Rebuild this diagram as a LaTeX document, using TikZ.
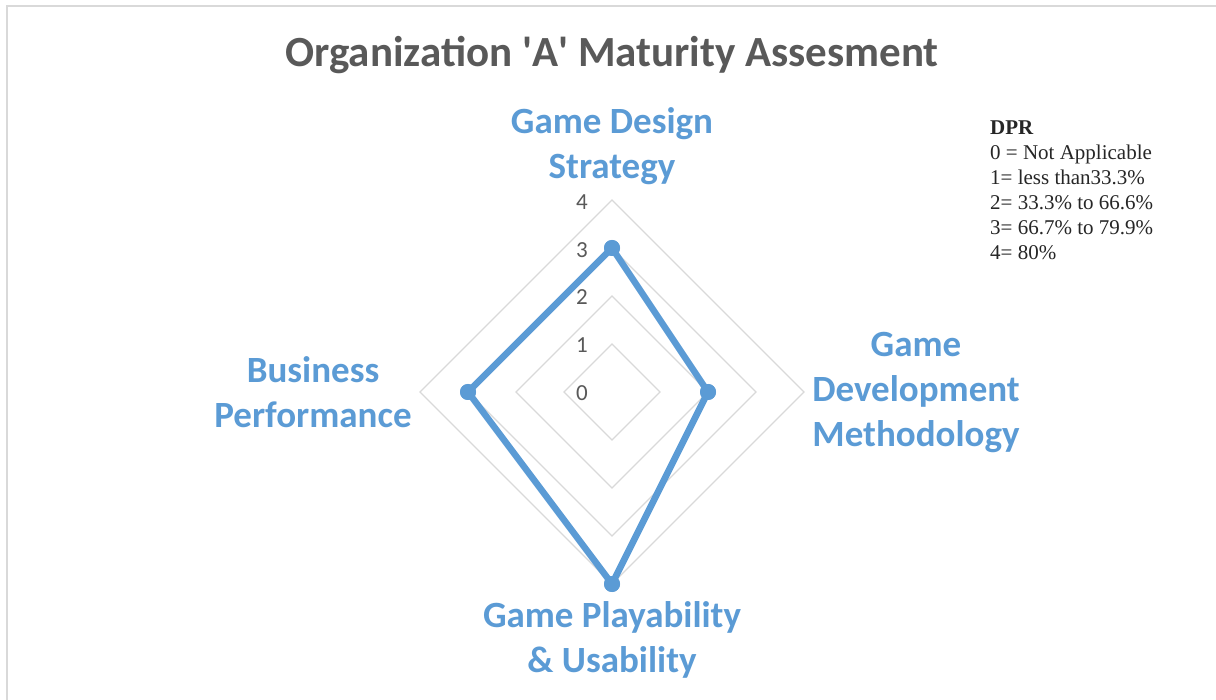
\documentclass[tikz,border=0pt]{standalone}
\usepackage{fontspec}
\setmainfont{Carlito}
\newfontfamily\legendfont{Liberation Serif}
\definecolor{chartblue}{HTML}{5B9BD5}
\definecolor{titlegray}{HTML}{595959}
\definecolor{gridgray}{HTML}{D9D9D9}
\begin{document}
\begin{tikzpicture}[x=1pt,y=-1pt,
  ring/.style={draw=gridgray,line width=1.3pt},
  dataline/.style={draw=chartblue,line width=6.5pt,line join=round},
  dot/.style={circle,fill=chartblue,inner sep=0pt,minimum size=16pt},
  axislabel/.style={text=chartblue,font=\fontsize{37}{45}\selectfont\bfseries,align=center},
  ticklabel/.style={text=titlegray,font=\fontsize{23}{26}\selectfont,anchor=center},
  frame/.style={draw=gridgray,line width=2pt}]
\useasboundingbox (0,0) rectangle (1216,700);
\fill[white] (0,0) rectangle (1216,700);
\draw[frame] (7,720) -- (7,6) -- (1230,6);
% title
\node[text=titlegray,font=\fontsize{43}{50}\selectfont\bfseries] (title) at (612,55) {Organization \textquotesingle A\textquotesingle{} Maturity Assesment};
% rings
\foreach \r in {48,96,144,192}{
  \draw[ring] (612,392-\r) -- (612+\r,392) -- (612,392+\r) -- (612-\r,392) -- cycle;
}
% tick labels
\node[ticklabel] (t4) at (582,202) {4};
\node[ticklabel] (t3) at (582,250) {3};
\node[ticklabel] (t2) at (582,297) {2};
\node[ticklabel] (t1) at (582,345) {1};
\node[ticklabel] (t0) at (582,393) {0};
% data
\node[dot] (p1) at (612,248) {};
\node[dot] (p2) at (708,392) {};
\node[dot] (p3) at (612,584) {};
\node[dot] (p4) at (468,392) {};
\draw[dataline] (p1.center) -- (p2.center) -- (p3.center) -- (p4.center) -- cycle;
\node[dot] at (p1) {};
\node[dot] at (p2) {};
\node[dot] at (p3) {};
\node[dot] at (p4) {};
% axis labels
\node[axislabel] (a1) at (612,146) {Game Design\\Strategy};
\node[axislabel] (a2) at (916,393) {Game\\Development\\Methodology};
\node[axislabel] (a3) at (612,640) {Game Playability\\\& Usability};
\node[axislabel] (a4) at (313,392) {Business\\Performance};
% legend
\node[anchor=north west,align=left,inner sep=0pt,text=black!85,font=\legendfont\fontsize{21}{25}\selectfont] (legend) at (990,121)
  {\textbf{DPR}\\0 = Not Applicable\\1= less than33.3\%\\2= 33.3\% to 66.6\%\\3= 66.7\% to 79.9\%\\4= 80\%};
\end{tikzpicture}
\end{document}
